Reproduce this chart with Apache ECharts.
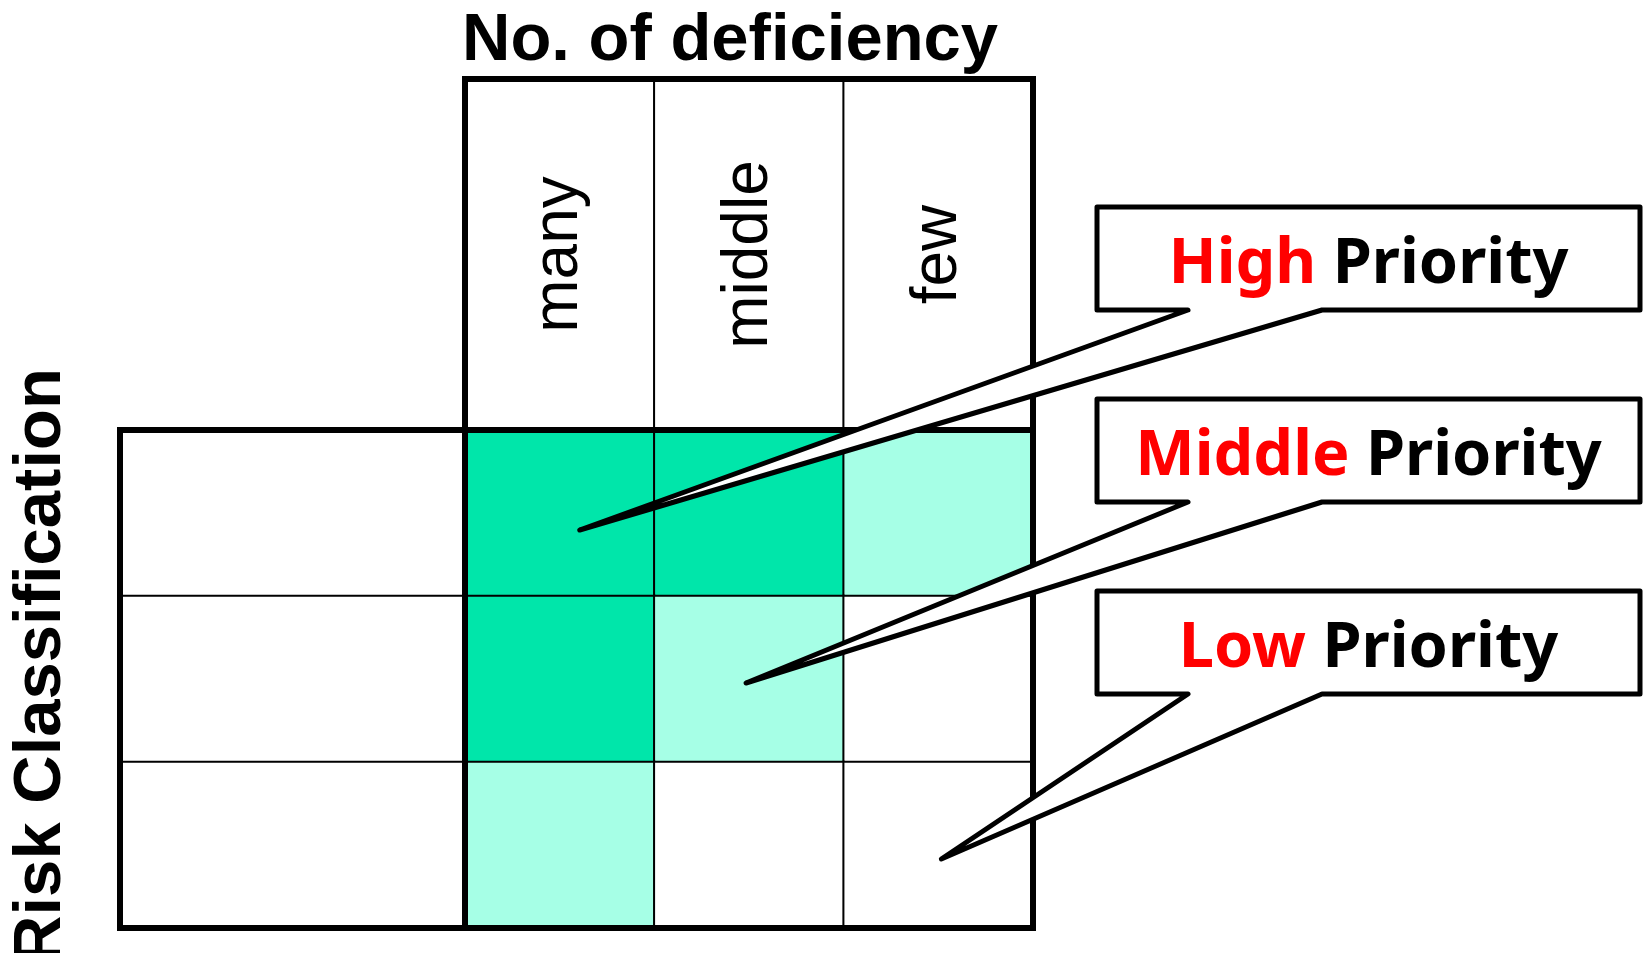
<!DOCTYPE html>
<html>
<head>
<meta charset="utf-8">
<script src="https://cdn.jsdelivr.net/npm/echarts@6/dist/echarts.min.js"></script>
<style>
  html, body { margin: 0; padding: 0; background: #fff; }
  #chart { width: 1651px; height: 953px; }
</style>
</head>
<body>
<div id="chart"></div>
<script>
// columns: number of deficiencies, rows: risk classes (top to bottom)
const deficiency = ['many', 'middle', 'few'];
const riskRows = ['high', 'medium', 'low'];
// priority of each cell: 2 = High, 1 = Middle, 0 = Low
const priorityLevels = [
  [2, 2, 1],
  [2, 1, 0],
  [1, 0, 0]
];
const priorityNames = ['Low', 'Middle', 'High'];
const levelColors = ['#ffffff', '#a6ffe6', '#00e6aa'];

// layout
const colLeft = 465, colRight = 1033;
const headTop = 79, bodyTop = 430, bodyBottom = 928;
const labelLeft = 120;

const bodyData = [];
priorityLevels.forEach((row, r) => {
  row.forEach((lvl, c) => bodyData.push([c, r, lvl]));
});
const headData = deficiency.map((d, c) => [c, 0, 0]);
const labelData = riskRows.map((d, r) => [0, r, 0]);

const cellBorder = { borderColor: '#000', borderWidth: 2 };
const frame = { show: true, z: 5, borderColor: '#000', borderWidth: 6, backgroundColor: 'transparent', outerBoundsMode: 'none' };

const chart = echarts.init(document.getElementById('chart'));
chart.setOption({
  animation: false,
  title: {
    text: 'No. of deficiency',
    left: 462,
    top: 8,
    padding: 0,
    textStyle: { fontSize: 67, fontWeight: 'bold', fontFamily: 'Liberation Sans', color: '#000' }
  },
  grid: [
    Object.assign({ left: colLeft, top: headTop, width: colRight - colLeft, height: bodyTop - headTop }, frame),
    Object.assign({ left: colLeft, top: bodyTop, width: colRight - colLeft, height: bodyBottom - bodyTop }, frame),
    Object.assign({ left: labelLeft, top: bodyTop, width: colLeft - labelLeft, height: bodyBottom - bodyTop }, frame)
  ],
  xAxis: [
    { type: 'category', gridIndex: 0, data: deficiency, show: false },
    { type: 'category', gridIndex: 1, data: deficiency, show: false },
    { type: 'category', gridIndex: 2, data: [''], show: false }
  ],
  yAxis: [
    { type: 'category', gridIndex: 0, data: [''], show: false },
    { type: 'category', gridIndex: 1, data: riskRows, inverse: true, show: false },
    { type: 'category', gridIndex: 2, data: riskRows, inverse: true, show: false }
  ],
  visualMap: {
    type: 'piecewise',
    show: false,
    dimension: 2,
    seriesIndex: [0, 1, 2],
    pieces: levelColors.map((color, i) => ({ value: i, color: color }))
  },
  series: [
    {
      type: 'heatmap', xAxisIndex: 0, yAxisIndex: 0, data: headData,
      itemStyle: cellBorder,
      emphasis: { disabled: true },
      label: {
        show: true,
        rotate: 90,
        fontSize: 64,
        fontFamily: 'Liberation Sans',
        color: '#000',
        formatter: p => deficiency[p.value[0]]
      }
    },
    {
      type: 'heatmap', xAxisIndex: 1, yAxisIndex: 1, data: bodyData,
      itemStyle: cellBorder,
      emphasis: { disabled: true },
      label: { show: false }
    },
    {
      type: 'heatmap', xAxisIndex: 2, yAxisIndex: 2, data: labelData,
      itemStyle: cellBorder,
      emphasis: { disabled: true },
      label: { show: false }
    }
  ]
});

// callout boxes, each pointing into one cell of its priority
const box = { left: 1097, right: 1640, height: 103, gapA: 1188, gapB: 1322 };
const callouts = [
  { level: 2, cell: [0, 0], dx: 20, dy: 17, top: 207 },
  { level: 1, cell: [1, 1], dx: -3, dy: 4, top: 399 },
  { level: 0, cell: [2, 2], dx: 3, dy: 14, top: 591 }
];

const graphics = [{
  type: 'text',
  x: 42,
  y: 666,
  rotation: Math.PI / 2,
  style: {
    text: 'Risk Classification',
    font: 'bold 67px "Liberation Sans"',
    fill: '#000',
    align: 'center',
    verticalAlign: 'middle'
  }
}];

const calloutFont = { fontSize: 63, fontWeight: 'bold', fontFamily: 'Noto Sans' };
callouts.forEach(c => {
  const tip = chart.convertToPixel({ gridIndex: 1 }, [deficiency[c.cell[0]], riskRows[c.cell[1]]]);
  const t = c.top, b = c.top + box.height;
  graphics.push({
    type: 'polygon',
    z: 20,
    shape: {
      points: [
        [box.left, t], [box.right, t], [box.right, b], [box.gapB, b],
        [tip[0] + c.dx, tip[1] + c.dy], [box.gapA, b], [box.left, b]
      ]
    },
    style: { fill: '#fff', stroke: '#000', lineWidth: 5, lineJoin: 'round' }
  });
  graphics.push({
    type: 'text',
    z: 21,
    x: (box.left + box.right) / 2,
    y: t + box.height / 2 + 7,
    style: {
      text: '{r|' + priorityNames[c.level] + ' }{k|Priority}',
      align: 'center',
      verticalAlign: 'middle',
      rich: {
        r: Object.assign({ fill: '#ff0000' }, calloutFont),
        k: Object.assign({ fill: '#000' }, calloutFont)
      }
    }
  });
});

chart.setOption({ graphic: graphics });
</script>
</body>
</html>
